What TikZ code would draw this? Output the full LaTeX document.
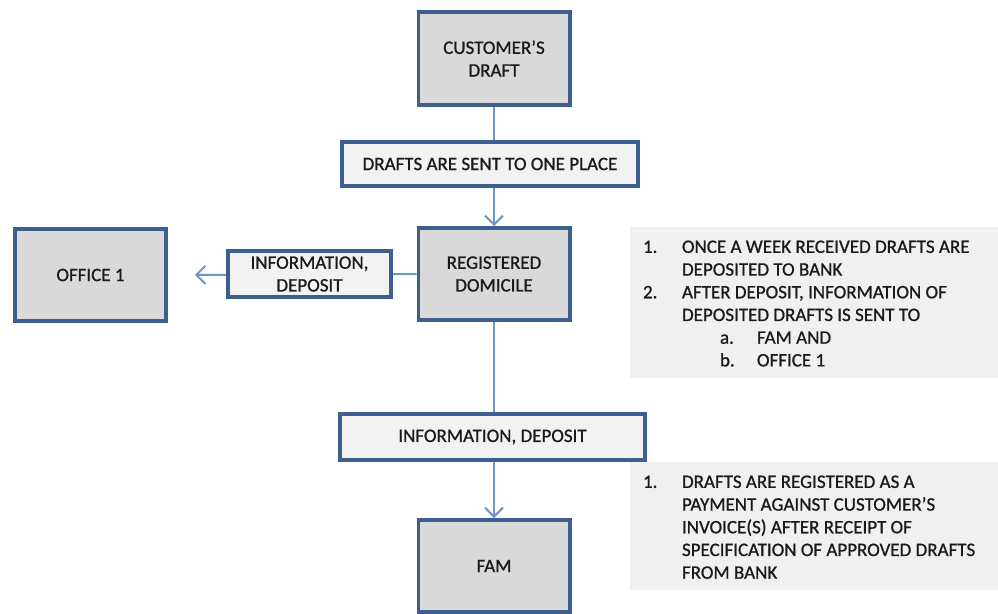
\documentclass[tikz,border=0pt]{standalone}
\usepackage{fontspec}
\setmainfont[FakeBold=0.9]{Carlito}
\usetikzlibrary{arrows.meta,backgrounds}
\definecolor{edgeblue}{HTML}{3D5F8F}
\definecolor{boxgray}{HTML}{D9D9D9}
\definecolor{taggray}{HTML}{F2F2F2}
\definecolor{panelgray}{HTML}{F0F0F0}
\definecolor{linkblue}{HTML}{6D95C8}
\definecolor{ink}{HTML}{1A1A1A}

\begin{document}
\begin{tikzpicture}[x=1pt,y=-1pt,
  font=\fontsize{19}{22.7}\selectfont,
  block/.style={draw=edgeblue, line width=3.8pt, fill=boxgray, text=ink,
    minimum width=151.2pt, minimum height=92.2pt, align=center, inner sep=0pt},
  tagbox/.style={draw=edgeblue, line width=3.8pt, fill=taggray, text=ink,
    align=center, inner sep=0pt},
  panel/.style={fill=panelgray, inner sep=0pt},
  listtext/.style={anchor=north west, inner sep=0pt, text=ink, align=left},
  conn/.style={draw=linkblue, line width=2pt,
    -{Straight Barb[length=9pt,width=18pt,line width=2pt]}}]

  % page frame
  \useasboundingbox (0,0) rectangle (998,613);

  % main flow boxes
  \node[block, minimum height=93.2pt] (cust) at (494,58.5) {CUSTOMER’S\\DRAFT};
  \node[block] (reg)    at (494,274)   {REGISTERED\\DOMICILE};
  \node[block] (office) at (90.5,275)  {OFFICE 1};
  \node[block] (fam)    at (494,566)   {FAM};

  % labels sitting on the connectors
  \node[tagbox, minimum width=296.2pt, minimum height=44.2pt] (sent) at (490,164)
    {DRAFTS ARE SENT TO ONE PLACE};
  \node[tagbox, minimum width=163.2pt, minimum height=46.2pt] (infoA) at (309.5,274)
    {INFORMATION,\\DEPOSIT};
  \node[tagbox, minimum width=305.2pt, minimum height=46.2pt] (infoB) at (492.5,437)
    {INFORMATION, DEPOSIT};

  % connectors, drawn beneath the labels
  \begin{scope}[on background layer]
    \draw[conn] (cust.south) -- (reg.north);
    \draw[conn, shorten >=27pt] (reg.west) -- (office.east);
    \draw[conn] (reg.south) -- (fam.north);
  \end{scope}

  % explanatory panels
  \node[panel, minimum width=370pt, minimum height=151pt] (panelA) at (815,302.5) {};
  \node[listtext] (listA) at ([xshift=13pt,yshift=-10pt]panelA.north west) {%
    \begin{tabular}{@{}p{39pt}@{}p{38pt}@{}p{37pt}@{}l@{}}
      1. & \multicolumn{3}{@{}l@{}}{ONCE A WEEK RECEIVED DRAFTS ARE}\\
         & \multicolumn{3}{@{}l@{}}{DEPOSITED TO BANK}\\
      2. & \multicolumn{3}{@{}l@{}}{AFTER DEPOSIT, INFORMATION OF}\\
         & \multicolumn{3}{@{}l@{}}{DEPOSITED DRAFTS IS SENT TO}\\
         & & a. & FAM AND\\
         & & b. & OFFICE 1
    \end{tabular}};

  \node[panel, minimum width=370pt, minimum height=128pt] (panelB) at (815,526) {};
  \node[listtext] (listB) at ([xshift=13pt,yshift=-10pt]panelB.north west) {%
    \begin{tabular}{@{}p{39pt}@{}l@{}}
      1. & DRAFTS ARE REGISTERED AS A\\
         & PAYMENT AGAINST CUSTOMER’S\\
         & INVOICE(S) AFTER RECEIPT OF\\
         & SPECIFICATION OF APPROVED DRAFTS\\
         & FROM BANK
    \end{tabular}};
\end{tikzpicture}
\end{document}
